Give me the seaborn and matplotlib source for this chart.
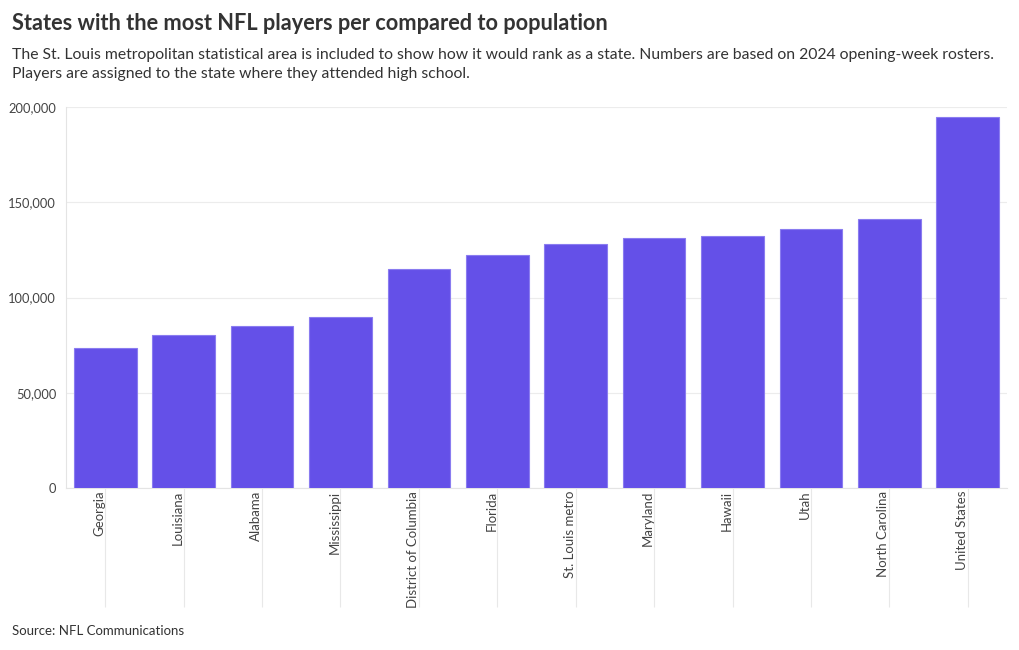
import matplotlib
matplotlib.use("Agg")
import matplotlib.pyplot as plt
import matplotlib.ticker as mticker
import seaborn as sns
import pandas as pd

# data
places = ['Georgia', 'Louisiana', 'Alabama', 'Mississippi', 'District of Columbia',
          'Florida', 'St. Louis metro', 'Maryland', 'Hawaii', 'Utah',
          'North Carolina', 'United States']
residents_per_player = [73500, 80300, 85000, 89800, 115000, 122300,
                        128100, 131200, 132300, 136000, 141200, 194800]

df = pd.DataFrame({'place': places, 'value': residents_per_player})

sns.set_theme(style='white')
plt.rcParams['font.family'] = ['Lato', 'DejaVu Sans']

fig = plt.figure(figsize=(10.2, 6.5), dpi=100)
ax = fig.add_axes([66 / 1020, 1 - 488 / 650, 941 / 1020, 381 / 650])

sns.barplot(data=df, x='place', y='value', color='#6450e8', saturation=1,
            width=0.8, edgecolor='#8a7cf0', linewidth=0.8, ax=ax, zorder=3)

ax.set_ylim(0, 200000)
ax.set_xlim(-0.5, len(places) - 0.5)
ax.set_yticks([0, 50000, 100000, 150000, 200000])
ax.yaxis.set_major_formatter(mticker.StrMethodFormatter('{x:,.0f}'))
ax.grid(axis='y', color='#ececec', linewidth=0.8, zorder=0)
ax.set_xlabel('')
ax.set_ylabel('')

for side in ['top', 'right']:
    ax.spines[side].set_visible(False)
for side in ['left', 'bottom']:
    ax.spines[side].set_color('#e4e4e4')
    ax.spines[side].set_linewidth(0.8)

ax.tick_params(axis='y', left=False, length=0, pad=7, labelsize=9.3, labelcolor='#444444')
# long pale ticks that run down past the rotated labels
ax.tick_params(axis='x', bottom=True, length=86, width=0.8, color='#e8e8e8',
               direction='out', pad=-84, labelsize=9.5, labelcolor='#444444')
for lbl in ax.get_xticklabels():
    lbl.set_rotation(90)
    lbl.set_ha('right')
    lbl.set_va('top')

fig.text(12 / 1020, 1 - 23 / 650, 'States with the most NFL players per compared to population',
         fontsize=15.7, fontweight='bold', color='#333333', va='center')
fig.text(12 / 1020, 1 - 48 / 650,
         'The St. Louis metropolitan statistical area is included to show how it would rank as a state. '
         'Numbers are based on 2024 opening-week rosters.\n'
         'Players are assigned to the state where they attended high school.',
         fontsize=11.3, color='#333333', va='top', linespacing=1.45)
fig.text(12 / 1020, 1 - 631 / 650, 'Source: NFL Communications',
         fontsize=9.5, color='#333333', va='center')

fig.savefig('out.png', dpi=100, facecolor='white')
